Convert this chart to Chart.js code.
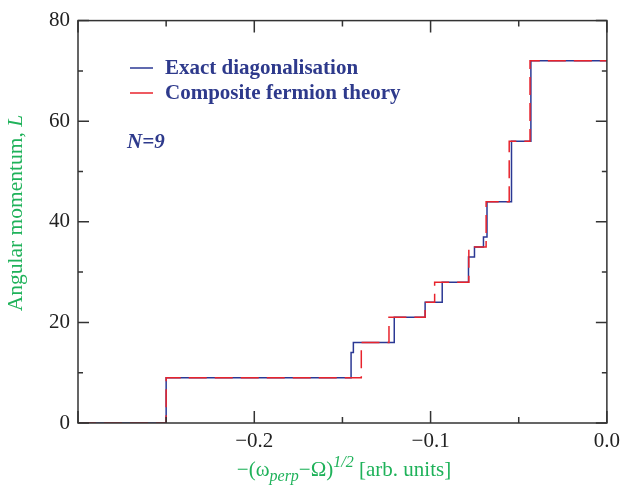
<!DOCTYPE html>
<html>
<head>
<meta charset="utf-8">
<script src="https://cdn.jsdelivr.net/npm/chart.js@4"></script>
<style>
  body { margin: 0; background: #fff; }
</style>
</head>
<body>
<canvas id="chart" width="626" height="485"></canvas>
<script>
// exact diagonalisation: L jumps to blueL[i] at blueX[i]
let blueX = [-0.3, -0.25, -0.1451, -0.1438, -0.1206, -0.1031, -0.0934, -0.0785, -0.0751, -0.0700, -0.0680, -0.0541, -0.0431, 0.0];
let blueL = [0, 9, 14, 16, 21, 24, 28, 33, 35, 37, 44, 56, 72, 72];
// composite fermion theory
let redX = [-0.3, -0.25, -0.1393, -0.1236, -0.1031, -0.0977, -0.0783, -0.0685, -0.0554, -0.0436, 0.0];
let redL = [0, 9, 16, 21, 24, 28, 35, 44, 56, 72, 72];

let xMajor = [-0.3, -0.2, -0.1, 0.0];
let xMinor = [-0.25, -0.15, -0.05];
let yMajor = [0, 20, 40, 60, 80];
let yMinor = [10, 30, 50, 70];

let blue = '#2b3894';
let red = '#e8232c';
let green = '#1fb25a';
let serif = '"Liberation Serif", "DejaVu Serif", serif';

function pts(xs, ys) {
    return xs.map((x, i) => ({ x: x, y: ys[i] }));
}

// draw a run of text pieces with different fonts / offsets, centered at x
function richText(ctx, x, y, parts) {
    let total = 0;
    parts.forEach(p => { ctx.font = p.font; total += ctx.measureText(p.text).width; });
    let cx = x - total / 2;
    parts.forEach(p => {
        ctx.font = p.font;
        ctx.fillText(p.text, cx, y + (p.dy || 0));
        cx += ctx.measureText(p.text).width;
    });
}

let decor = {
    id: 'decor',
    afterDatasetsDraw(chart) {
        let ctx = chart.ctx;
        let a = chart.chartArea;
        let sx = chart.scales.x, sy = chart.scales.y;
        ctx.save();
        ctx.strokeStyle = '#333';
        ctx.lineWidth = 1.5;
        ctx.strokeRect(a.left, a.top, a.right - a.left, a.bottom - a.top);
        ctx.beginPath();
        let tick = (vals, len) => {
            vals.forEach(v => {
                let px = sx.getPixelForValue(v);
                ctx.moveTo(px, a.bottom); ctx.lineTo(px, a.bottom - len);
                ctx.moveTo(px, a.top); ctx.lineTo(px, a.top + len);
            });
        };
        let ytick = (vals, len) => {
            vals.forEach(v => {
                let py = sy.getPixelForValue(v);
                ctx.moveTo(a.left, py); ctx.lineTo(a.left + len, py);
                ctx.moveTo(a.right, py); ctx.lineTo(a.right - len, py);
            });
        };
        tick(xMajor, 12); tick(xMinor, 6);
        ytick(yMajor, 11); ytick(yMinor, 5);
        ctx.stroke();

        // legend
        ctx.lineWidth = 1.5;
        chart.data.datasets.slice().sort((p, q) => p.legendRow - q.legendRow).forEach((ds, i) => {
            let y = 68 + i * 25;
            ctx.strokeStyle = ds.borderColor;
            ctx.beginPath(); ctx.moveTo(130, y); ctx.lineTo(153, y); ctx.stroke();
            ctx.fillStyle = '#2e3a8c';
            ctx.font = 'bold 21px ' + serif;
            ctx.textAlign = 'left';
            ctx.fillText(ds.label, 165, y + 6);
        });
        ctx.font = 'italic bold 21px ' + serif;
        ctx.fillText('N=9', 127, 148);

        // axis titles
        ctx.fillStyle = green;
        ctx.textAlign = 'left';
        ctx.textBaseline = 'alphabetic';
        richText(ctx, 344, 476, [
            { text: '\u2212(\u03c9', font: '21px ' + serif },
            { text: 'perp', font: 'italic 16px ' + serif, dy: 5 },
            { text: '\u2212\u03a9)', font: '21px ' + serif },
            { text: '1/2', font: 'italic 16px ' + serif, dy: -9 },
            { text: ' [arb. units]', font: '21px ' + serif }
        ]);
        ctx.translate(22, 213);
        ctx.rotate(-Math.PI / 2);
        richText(ctx, 0, 0, [
            { text: 'Angular momentum, ', font: '21.5px ' + serif },
            { text: 'L', font: 'italic 21.5px ' + serif }
        ]);
        ctx.restore();
    }
};

new Chart(document.getElementById('chart').getContext('2d'), {
    type: 'line',
    data: {
        datasets: [{
            label: 'Exact diagonalisation',
            data: pts(blueX, blueL),
            borderColor: blue,
            borderWidth: 1.5,
            stepped: true,
            pointRadius: 0,
            order: 1,
            legendRow: 0
        }, {
            label: 'Composite fermion theory',
            data: pts(redX, redL),
            borderColor: red,
            borderWidth: 1.5,
            borderDash: [18, 8],
            stepped: true,
            pointRadius: 0,
            order: 0,
            legendRow: 1
        }]
    },
    options: {
        responsive: false,
        animation: false,
        devicePixelRatio: 1,
        layout: { padding: { top: 12, right: 16, left: 0, bottom: 0 } },
        plugins: { legend: { display: false }, tooltip: { enabled: false } },
        scales: {
            x: {
                type: 'linear',
                min: -0.3,
                max: 0,
                grid: { display: false, drawTicks: false },
                border: { display: false },
                ticks: {
                    stepSize: 0.1,
                    autoSkip: false,
                    maxRotation: 0,
                    padding: 6,
                    color: '#222',
                    font: { family: serif, size: 21 },
                    callback: v => v < -0.25 ? '' : (Math.abs(v) < 1e-9 ? '0.0' : '\u2212' + Math.abs(v).toFixed(1))
                },
                afterFit: s => { s.height = 62; }
            },
            y: {
                min: 0,
                max: 80,
                grid: { display: false, drawTicks: false },
                border: { display: false },
                ticks: {
                    stepSize: 20,
                    padding: 8,
                    color: '#222',
                    font: { family: serif, size: 21 }
                },
                afterFit: s => { s.width = 78; }
            }
        }
    },
    plugins: [decor]
});
</script>
</body>
</html>
